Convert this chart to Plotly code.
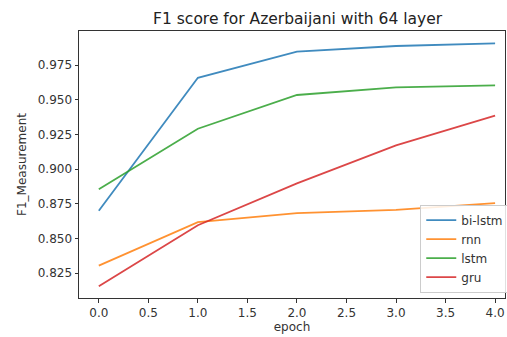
import plotly.graph_objects as go

epochs = [0, 1, 2, 3, 4]
bi_lstm = [0.870, 0.9658, 0.9846, 0.9887, 0.9906]
rnn = [0.8305, 0.8618, 0.8683, 0.8707, 0.8755]
lstm = [0.8856, 0.9291, 0.9534, 0.9589, 0.9603]
gru = [0.8156, 0.8596, 0.8897, 0.9171, 0.9385]

series = [("bi-lstm", bi_lstm, "#1f77b4"), ("rnn", rnn, "#ff7f0e"),
          ("lstm", lstm, "#2ca02c"), ("gru", gru, "#d62728")]

yticks = [0.825, 0.850, 0.875, 0.900, 0.925, 0.950, 0.975]
xticks = [0.0, 0.5, 1.0, 1.5, 2.0, 2.5, 3.0, 3.5, 4.0]

fig = go.Figure()
for name, vals, col in series:
    fig.add_trace(go.Scatter(x=epochs, y=vals, mode="lines", name=name,
                             line=dict(color=col, width=1.8), opacity=0.85))

fig.update_layout(
    width=507, height=337,
    margin=dict(l=79, r=2, t=31, b=39, autoexpand=False),
    paper_bgcolor="white", plot_bgcolor="white",
    font=dict(family="DejaVu Sans", size=12, color="#333333"),
    title=dict(text="F1 score for Azerbaijani with 64 layer", x=0.587, xanchor="center",
               y=1 - 19/337, yanchor="middle", font=dict(size=15.5, color="#222222")),
    xaxis=dict(range=[-0.2, 4.1], tickvals=xticks, ticktext=[f"{v:.1f}" for v in xticks],
               showgrid=False, zeroline=False, showline=True, linecolor="#333333", linewidth=1,
               mirror=True, ticks="outside", ticklen=3.5, tickcolor="#333333", automargin=False,
               tickfont=dict(size=12),
               title=dict(text="epoch", standoff=1, font=dict(size=12))),
    yaxis=dict(range=[0.8072, 0.9995], tickvals=yticks, ticktext=[f"{v:.3f}" for v in yticks],
               showgrid=False, zeroline=False, showline=True, linecolor="#333333", linewidth=1,
               mirror=True, ticks="outside", ticklen=3.5, tickcolor="#333333", automargin=False,
               tickfont=dict(size=12),
               title=dict(text="F1_Measurement", standoff=8, font=dict(size=12))),
    legend=dict(x=1.01, xanchor="right", y=0.02, yanchor="bottom",
                bgcolor="rgba(255,255,255,0.85)", bordercolor="#cccccc", borderwidth=1,
                font=dict(size=12), tracegroupgap=0, itemwidth=30),
    showlegend=True,
)

fig.write_html("out.html", config={"displayModeBar": False},
               post_script="document.body.style.margin='0';document.body.style.overflow='hidden';")
